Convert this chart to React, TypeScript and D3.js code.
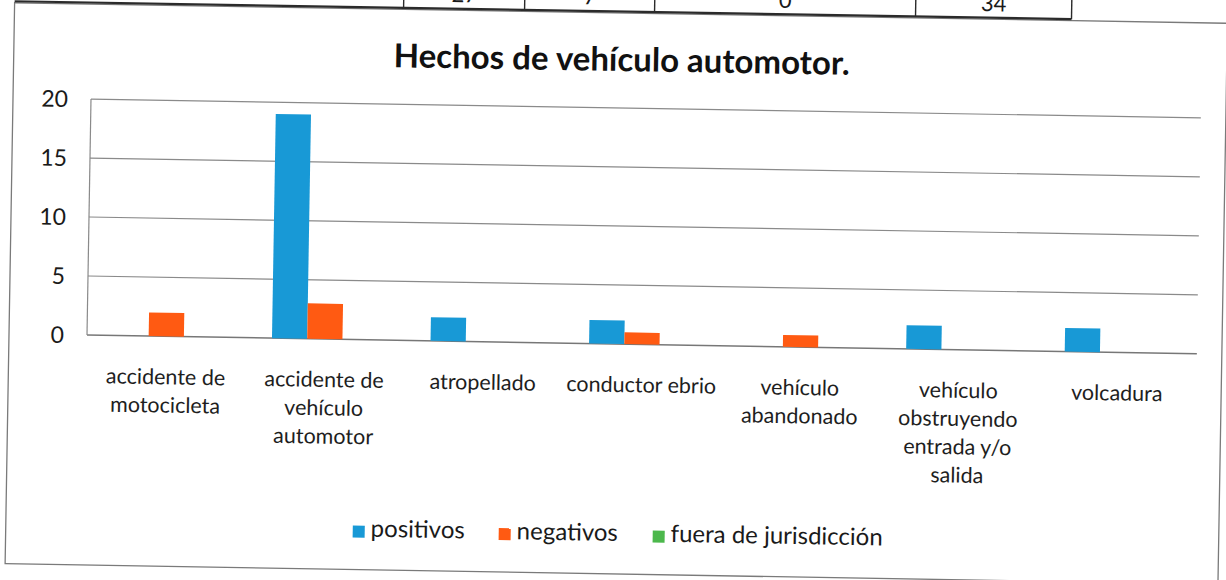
import React from "react";
import * as d3 from "d3";

// ---- data ----
const categories = [
  "accidente de motocicleta",
  "accidente de vehículo automotor",
  "atropellado",
  "conductor ebrio",
  "vehículo abandonado",
  "vehículo obstruyendo entrada y/o salida",
  "volcadura",
];
const seriesNames = ["positivos", "negativos", "fuera de jurisdicción"];
const positivos = [0, 19, 2, 2, 0, 2, 2];
const negativos = [2, 3, 0, 1, 1, 0, 0];
const fueraDeJurisdiccion = [0, 0, 0, 0, 0, 0, 0];
const yTicks = [0, 5, 10, 15, 20];
const tableTotals = ["27", "7", "0", "34"];
const title = "Hechos de vehículo automotor.";

const seriesColors = ["#1899d6", "#ff5a12", "#4cb84c"];
const seriesValues = [positivos, negativos, fueraDeJurisdiccion];

// ---- layout ----
const W = 1226;
const H = 580;
const FONT = "Lato, 'Open Sans', sans-serif";
const plotLeft = 87;
const plotRight = 1197;
const plotTop = 99;
const plotBottom = 335;
const angle = 0.97;

function wrap(text: string, maxChars: number): string[] {
  const words = text.split(" ");
  const lines: string[] = [];
  let cur = "";
  for (const w of words) {
    const cand = cur ? cur + " " + w : w;
    if (cand.length > maxChars && cur) {
      lines.push(cur);
      cur = w;
    } else cur = cand;
  }
  if (cur) lines.push(cur);
  return lines;
}

export default function App() {
  const x = d3
    .scaleBand<string>()
    .domain(categories)
    .range([plotLeft, plotRight])
    .paddingInner(1 / 3)
    .paddingOuter(1 / 6);
  const xs = d3
    .scaleBand<string>()
    .domain(seriesNames)
    .range([0, x.bandwidth()]);
  const y = d3.scaleLinear().domain([0, 20]).range([plotBottom, plotTop]);

  const tableCols = [9, 398, 519, 649, 910, 1066];
  const legendX = [356, 502, 656];

  return (
    <svg
      width={W}
      height={H}
      style={{ position: "absolute", left: 0, top: 0, background: "#fff" }}
      fontFamily={FONT}
    >
      <rect x={0} y={0} width={W} height={H} fill="#fff" />
      <g transform={`rotate(${angle}, ${plotLeft}, ${plotBottom})`}>
        {/* chart frame */}
        <rect x={9} y={4} width={1213} height={561} fill="none" stroke="#7a7a7a" strokeWidth={1.3} />
        {/* table fragment above */}
        <line x1={9} x2={1066} y1={2.5} y2={2.5} stroke="#2b2b2b" strokeWidth={2.2} />
        {tableCols.slice(1).map((c, i) => (
          <line key={"tc" + i} x1={c} x2={c} y1={-30} y2={2.5} stroke="#2b2b2b" strokeWidth={1.4} />
        ))}
        {tableTotals.map((t, i) => (
          <text
            key={"tt" + i}
            x={(tableCols[i + 1] + tableCols[i + 2]) / 2}
            y={-4}
            textAnchor="middle"
            fontSize={22}
            fill="#1a1a1a"
          >
            {t}
          </text>
        ))}

        {/* title */}
        <text x={617} y={62} textAnchor="middle" fontSize={33} fontWeight={700} fill="#111">
          {title}
        </text>

        {/* gridlines */}
        {yTicks.map((t) => (
          <line
            key={"g" + t}
            x1={plotLeft}
            x2={plotRight}
            y1={y(t)}
            y2={y(t)}
            stroke={t === 0 ? "#777" : "#8a8a8a"}
            strokeWidth={t === 0 ? 1.5 : 1.2}
          />
        ))}
        <line x1={plotLeft} x2={plotLeft} y1={y(20)} y2={y(0)} stroke="#8a8a8a" strokeWidth={1.2} />
        {yTicks.map((t) => (
          <text key={"yt" + t} x={64} y={y(t)} dy="0.36em" textAnchor="end" fontSize={23} fill="#1a1a1a">
            {t}
          </text>
        ))}

        {/* bars */}
        {seriesValues.map((vals, si) =>
          vals.map((v, ci) =>
            v > 0 ? (
              <rect
                key={`b${si}-${ci}`}
                x={(x(categories[ci]) as number) + (xs(seriesNames[si]) as number)}
                y={y(v)}
                width={xs.bandwidth()}
                height={y(0) - y(v)}
                fill={seriesColors[si]}
              />
            ) : null
          )
        )}

        {/* category labels */}
        {categories.map((c) => {
          const lines = wrap(c, 15);
          const cx = (x(c) as number) + x.bandwidth() / 2;
          return (
            <text key={"cl" + c} x={cx} y={383} textAnchor="middle" fontSize={21.5} fill="#1e1e1e">
              {lines.map((l, i) => (
                <tspan key={i} x={cx} dy={i === 0 ? 0 : 28.3}>
                  {l}
                </tspan>
              ))}
            </text>
          );
        })}

        {/* legend */}
        {seriesNames.map((s, i) => (
          <g key={"lg" + s}>
            <rect x={legendX[i]} y={521} width={12} height={12} fill={seriesColors[i]} />
            <text x={legendX[i] + 18} y={532} fontSize={24} fill="#1a1a1a">
              {s}
            </text>
          </g>
        ))}
      </g>
    </svg>
  );
}
